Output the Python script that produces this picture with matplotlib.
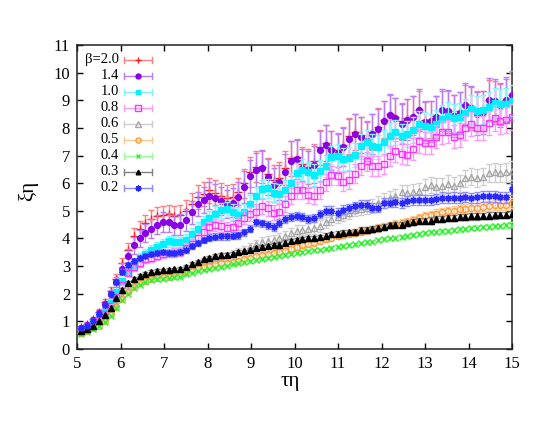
import matplotlib
matplotlib.use("Agg")
import matplotlib.pyplot as plt

plt.rcParams['font.family'] = 'serif'
plt.rcParams['font.serif'] = ['Liberation Serif', 'DejaVu Serif']

# tau*eta grid
x = [5.10, 5.23, 5.37, 5.50, 5.64, 5.77, 5.90, 6.04, 6.17, 6.30,
     6.44, 6.57, 6.71, 6.84, 6.97, 7.11, 7.24, 7.37, 7.51, 7.64,
     7.78, 7.91, 8.04, 8.18, 8.31, 8.44, 8.58, 8.71, 8.85, 8.98,
     9.11, 9.25, 9.38, 9.52, 9.65, 9.78, 9.92, 10.05, 10.18, 10.32,
     10.45, 10.59, 10.72, 10.85, 10.99, 11.12, 11.25, 11.39, 11.52, 11.66,
     11.79, 11.92, 12.06, 12.19, 12.32, 12.46, 12.59, 12.73, 12.86, 12.99,
     13.13, 13.26, 13.39, 13.53, 13.66, 13.80, 13.93, 14.06, 14.20, 14.33,
     14.47, 14.60, 14.73, 14.87, 15.00]

labels = ['β=2.0', '1.4', '1.0', '0.8', '0.6', '0.5', '0.4', '0.3', '0.2']

y_20 = [0.78, 0.9, 1.08, 1.35, 1.7, 2.1, 2.55, 3.1, 3.6, 4.1,
        4.35, 4.55, 4.7, 4.8, 4.85, 4.88, 4.82, 4.85, 5.0, 5.25,
        5.5, 5.6, 5.75, 5.65, 5.55, 5.45, 5.5, 5.7, 6.0, 6.4,
        6.6, 6.6, 6.35, 6.1, 6.2, 6.55, 6.9, 6.95, 6.7, 6.6,
        6.8, 7.3, 7.45, 7.25, 7.2, 7.4, 7.7, 7.85, 7.75, 7.6,
        7.85, 8.05, 8.3, 8.5, 8.4, 8.25, 8.35, 8.45, 8.65, 8.3,
        8.3, 8.45, 8.65, 8.6, 8.5, 8.6, 8.85, 8.75, 8.6, 8.6,
        9.0, 8.95, 8.85, 9.0, 9.2]
e_20 = [0.05, 0.06, 0.07, 0.09, 0.11, 0.14, 0.17, 0.2, 0.24, 0.27,
        0.3, 0.3, 0.32, 0.33, 0.34, 0.34, 0.35, 0.36, 0.38, 0.4,
        0.42, 0.43, 0.45, 0.45, 0.46, 0.47, 0.48, 0.5, 0.53, 0.55,
        0.56, 0.58, 0.58, 0.57, 0.58, 0.6, 0.63, 0.64, 0.62, 0.62,
        0.62, 0.64, 0.64, 0.64, 0.62, 0.64, 0.66, 0.66, 0.65, 0.65,
        0.66, 0.66, 0.68, 0.68, 0.67, 0.67, 0.68, 0.7, 0.7, 0.68,
        0.68, 0.7, 0.7, 0.72, 0.7, 0.7, 0.72, 0.74, 0.72, 0.72,
        0.74, 0.74, 0.75, 0.76, 0.8]

y_14 = [0.75, 0.87, 1.05, 1.3, 1.62, 2.0, 2.42, 2.9, 3.35, 3.75,
        4.0, 4.2, 4.35, 4.5, 4.6, 4.58, 4.48, 4.5, 4.68, 4.95,
        5.25, 5.4, 5.55, 5.48, 5.35, 5.25, 5.3, 5.5, 5.85, 6.25,
        6.49, 6.55, 6.22, 5.94, 6.03, 6.4, 6.81, 6.87, 6.55, 6.49,
        6.67, 7.19, 7.39, 7.19, 7.09, 7.31, 7.6, 7.79, 7.69, 7.51,
        7.79, 7.96, 8.24, 8.48, 8.36, 8.15, 8.3, 8.39, 8.64, 8.2,
        8.24, 8.39, 8.64, 8.6, 8.45, 8.54, 8.84, 8.72, 8.52, 8.56,
        9.02, 8.96, 8.84, 9.02, 9.2]
e_14 = [0.05, 0.06, 0.08, 0.1, 0.12, 0.15, 0.18, 0.22, 0.26, 0.3,
        0.32, 0.33, 0.34, 0.35, 0.36, 0.36, 0.36, 0.38, 0.4, 0.42,
        0.45, 0.46, 0.48, 0.48, 0.5, 0.5, 0.52, 0.55, 0.58, 0.6,
        0.62, 0.64, 0.64, 0.62, 0.64, 0.66, 0.7, 0.7, 0.68, 0.68,
        0.68, 0.7, 0.7, 0.7, 0.68, 0.7, 0.72, 0.72, 0.7, 0.7,
        0.72, 0.72, 0.74, 0.74, 0.72, 0.72, 0.74, 0.75, 0.76, 0.74,
        0.74, 0.75, 0.76, 0.78, 0.76, 0.76, 0.78, 0.8, 0.78, 0.78,
        0.8, 0.8, 0.8, 0.82, 0.85]

y_10 = [0.68, 0.8, 0.98, 1.2, 1.35, 1.65, 2.05, 2.45, 2.8, 3.05,
        3.3, 3.45, 3.58, 3.68, 3.8, 3.9, 3.88, 3.87, 3.95, 4.15,
        4.35, 4.58, 4.75, 4.9, 5.02, 5.05, 4.95, 4.85, 4.95, 5.25,
        5.52, 5.79, 5.82, 5.66, 5.62, 5.74, 6.0, 6.36, 6.49, 6.39,
        6.3, 6.43, 6.63, 6.94, 6.99, 6.87, 6.9, 7.03, 7.33, 7.48,
        7.33, 7.31, 7.48, 7.72, 7.84, 7.7, 7.79, 7.93, 8.15, 8.08,
        8.03, 8.15, 8.32, 8.44, 8.36, 8.4, 8.54, 8.68, 8.63, 8.66,
        8.76, 8.92, 8.88, 8.88, 8.99]
e_10 = [0.05, 0.05, 0.06, 0.07, 0.08, 0.1, 0.11, 0.13, 0.14, 0.15,
        0.16, 0.17, 0.18, 0.18, 0.19, 0.2, 0.2, 0.2, 0.21, 0.22,
        0.24, 0.25, 0.26, 0.27, 0.28, 0.28, 0.28, 0.3, 0.3, 0.32,
        0.33, 0.34, 0.34, 0.34, 0.35, 0.36, 0.37, 0.38, 0.38, 0.38,
        0.4, 0.4, 0.4, 0.42, 0.42, 0.42, 0.42, 0.43, 0.44, 0.44,
        0.44, 0.45, 0.45, 0.46, 0.46, 0.46, 0.47, 0.48, 0.48, 0.48,
        0.48, 0.49, 0.5, 0.5, 0.5, 0.5, 0.51, 0.52, 0.52, 0.52,
        0.53, 0.54, 0.54, 0.55, 0.56]

y_08 = [0.6, 0.7, 0.85, 1.05, 1.28, 1.55, 1.9, 2.3, 2.75, 2.95,
        3.1, 3.25, 3.3, 3.38, 3.43, 3.48, 3.48, 3.52, 3.65, 3.8,
        4.0, 4.25, 4.4, 4.48, 4.45, 4.38, 4.4, 4.55, 4.75, 4.9,
        4.97, 5.16, 5.1, 4.94, 4.97, 5.25, 5.54, 5.74, 5.74, 5.58,
        5.54, 5.76, 6.03, 6.28, 6.27, 6.06, 6.12, 6.34, 6.63, 6.79,
        6.63, 6.61, 6.7, 6.99, 7.15, 7.07, 7.03, 7.24, 7.51, 7.45,
        7.45, 7.69, 7.84, 7.87, 7.69, 7.75, 8.0, 8.15, 8.0, 8.0,
        8.18, 8.36, 8.24, 8.27, 8.39]
e_08 = [0.04, 0.05, 0.05, 0.06, 0.07, 0.08, 0.1, 0.11, 0.12, 0.13,
        0.13, 0.14, 0.14, 0.15, 0.15, 0.15, 0.16, 0.16, 0.17, 0.18,
        0.19, 0.2, 0.2, 0.21, 0.22, 0.22, 0.22, 0.23, 0.24, 0.25,
        0.26, 0.26, 0.27, 0.27, 0.28, 0.28, 0.29, 0.3, 0.3, 0.3,
        0.31, 0.32, 0.32, 0.33, 0.33, 0.33, 0.34, 0.34, 0.35, 0.35,
        0.36, 0.36, 0.37, 0.37, 0.38, 0.38, 0.38, 0.39, 0.4, 0.4,
        0.4, 0.41, 0.42, 0.42, 0.42, 0.43, 0.44, 0.44, 0.44, 0.45,
        0.45, 0.46, 0.46, 0.47, 0.48]

y_06 = [0.6, 0.68, 0.78, 0.9, 1.08, 1.32, 1.62, 1.92, 2.15, 2.35,
        2.48, 2.57, 2.63, 2.68, 2.72, 2.74, 2.76, 2.8, 2.9, 3.0,
        3.08, 3.15, 3.22, 3.3, 3.35, 3.4, 3.45, 3.52, 3.6, 3.7,
        3.8, 3.88, 3.92, 3.95, 4.02, 4.1, 4.2, 4.28, 4.3, 4.35,
        4.38, 4.45, 4.58, 4.7, 4.79, 4.85, 4.92, 5.04, 5.08, 5.12,
        5.18, 5.28, 5.38, 5.45, 5.52, 5.68, 5.64, 5.7, 5.72, 5.88,
        5.94, 5.88, 5.9, 5.98, 5.9, 6.0, 6.18, 6.24, 6.18, 6.24,
        6.36, 6.39, 6.36, 6.39, 6.46]
e_06 = [0.03, 0.03, 0.04, 0.04, 0.05, 0.05, 0.06, 0.06, 0.07, 0.07,
        0.07, 0.08, 0.08, 0.08, 0.08, 0.09, 0.09, 0.09, 0.1, 0.1,
        0.1, 0.11, 0.11, 0.12, 0.12, 0.12, 0.13, 0.13, 0.14, 0.14,
        0.15, 0.16, 0.16, 0.17, 0.17, 0.18, 0.18, 0.19, 0.19, 0.2,
        0.2, 0.21, 0.21, 0.22, 0.22, 0.23, 0.23, 0.24, 0.24, 0.25,
        0.25, 0.25, 0.26, 0.26, 0.27, 0.27, 0.28, 0.28, 0.28, 0.29,
        0.29, 0.3, 0.3, 0.3, 0.31, 0.31, 0.31, 0.32, 0.32, 0.32,
        0.33, 0.33, 0.33, 0.34, 0.34]

y_05 = [0.58, 0.66, 0.75, 0.85, 1.02, 1.25, 1.52, 1.82, 2.05, 2.25,
        2.38, 2.46, 2.52, 2.57, 2.6, 2.62, 2.64, 2.67, 2.78, 2.86,
        2.92, 2.97, 3.02, 3.06, 3.1, 3.13, 3.15, 3.2, 3.25, 3.3,
        3.35, 3.4, 3.44, 3.48, 3.52, 3.56, 3.62, 3.7, 3.75, 3.8,
        3.85, 3.9, 3.97, 4.02, 4.08, 4.12, 4.16, 4.2, 4.25, 4.3,
        4.33, 4.38, 4.43, 4.48, 4.52, 4.55, 4.6, 4.68, 4.75, 4.8,
        4.85, 4.9, 4.95, 4.98, 5.0, 5.05, 5.08, 5.1, 5.12, 5.15,
        5.18, 5.2, 5.22, 5.22, 5.28]
e_05 = [0.02, 0.02, 0.03, 0.03, 0.03, 0.04, 0.04, 0.04, 0.05, 0.05,
        0.05, 0.05, 0.05, 0.05, 0.05, 0.05, 0.06, 0.06, 0.06, 0.06,
        0.06, 0.06, 0.06, 0.07, 0.07, 0.07, 0.07, 0.07, 0.08, 0.08,
        0.08, 0.08, 0.08, 0.09, 0.09, 0.09, 0.09, 0.1, 0.1, 0.1,
        0.1, 0.1, 0.11, 0.11, 0.11, 0.11, 0.12, 0.12, 0.12, 0.12,
        0.13, 0.13, 0.13, 0.13, 0.14, 0.14, 0.14, 0.14, 0.15, 0.15,
        0.15, 0.15, 0.16, 0.16, 0.16, 0.16, 0.17, 0.17, 0.17, 0.17,
        0.18, 0.18, 0.18, 0.18, 0.19]

y_04 = [0.55, 0.63, 0.72, 0.82, 0.98, 1.2, 1.5, 1.78, 2.0, 2.2,
        2.33, 2.42, 2.48, 2.52, 2.55, 2.57, 2.59, 2.62, 2.7, 2.76,
        2.82, 2.87, 2.9, 2.94, 2.98, 3.02, 3.06, 3.1, 3.14, 3.18,
        3.22, 3.26, 3.3, 3.34, 3.37, 3.4, 3.44, 3.48, 3.51, 3.54,
        3.57, 3.6, 3.63, 3.66, 3.7, 3.73, 3.76, 3.79, 3.82, 3.86,
        3.89, 3.93, 3.97, 4.0, 4.03, 4.06, 4.1, 4.13, 4.16, 4.19,
        4.22, 4.24, 4.26, 4.28, 4.3, 4.33, 4.35, 4.37, 4.39, 4.41,
        4.43, 4.45, 4.46, 4.47, 4.49]
e_04 = [0.02, 0.02, 0.02, 0.02, 0.03, 0.03, 0.03, 0.03, 0.03, 0.03,
        0.03, 0.03, 0.03, 0.03, 0.03, 0.03, 0.03, 0.04, 0.04, 0.04,
        0.04, 0.04, 0.04, 0.04, 0.04, 0.04, 0.04, 0.05, 0.05, 0.05,
        0.05, 0.05, 0.05, 0.05, 0.05, 0.05, 0.05, 0.05, 0.06, 0.06,
        0.06, 0.06, 0.06, 0.06, 0.06, 0.06, 0.06, 0.06, 0.06, 0.07,
        0.07, 0.07, 0.07, 0.07, 0.07, 0.07, 0.07, 0.07, 0.07, 0.07,
        0.08, 0.08, 0.08, 0.08, 0.08, 0.08, 0.08, 0.08, 0.08, 0.08,
        0.08, 0.08, 0.08, 0.09, 0.09]

y_03 = [0.65, 0.72, 0.83, 1.0, 1.22, 1.5, 1.85, 2.15, 2.4, 2.55,
        2.65, 2.73, 2.8, 2.84, 2.86, 2.87, 2.88, 2.9, 2.98, 3.08,
        3.16, 3.25, 3.3, 3.38, 3.4, 3.42, 3.45, 3.5, 3.53, 3.58,
        3.65, 3.7, 3.73, 3.75, 3.78, 3.85, 3.9, 3.95, 3.98, 4.0,
        4.0, 4.05, 4.1, 4.15, 4.17, 4.2, 4.22, 4.25, 4.3, 4.32,
        4.35, 4.38, 4.43, 4.47, 4.5, 4.5, 4.55, 4.6, 4.62, 4.64,
        4.65, 4.7, 4.72, 4.73, 4.75, 4.77, 4.78, 4.8, 4.8, 4.82,
        4.83, 4.84, 4.85, 4.85, 4.87]
e_03 = [0.02, 0.02, 0.03, 0.03, 0.04, 0.04, 0.05, 0.05, 0.05, 0.05,
        0.05, 0.05, 0.05, 0.05, 0.05, 0.05, 0.05, 0.06, 0.06, 0.06,
        0.06, 0.06, 0.06, 0.06, 0.06, 0.07, 0.07, 0.07, 0.07, 0.07,
        0.07, 0.07, 0.08, 0.08, 0.08, 0.08, 0.08, 0.08, 0.08, 0.08,
        0.09, 0.09, 0.09, 0.09, 0.09, 0.09, 0.09, 0.09, 0.1, 0.1,
        0.1, 0.1, 0.1, 0.1, 0.1, 0.1, 0.1, 0.1, 0.11, 0.11,
        0.11, 0.11, 0.11, 0.11, 0.11, 0.11, 0.11, 0.12, 0.12, 0.12,
        0.12, 0.12, 0.12, 0.12, 0.12]

y_02 = [0.75, 0.85, 1.02, 1.28, 1.6, 2.0, 2.42, 2.8, 3.05, 3.2,
        3.3, 3.38, 3.43, 3.47, 3.5, 3.48, 3.47, 3.5, 3.6, 3.72,
        3.85, 3.95, 4.03, 4.07, 4.08, 4.08, 4.1, 4.12, 4.22, 4.35,
        4.58, 4.55, 4.49, 4.41, 4.55, 4.7, 4.79, 4.82, 4.79, 4.7,
        4.74, 4.89, 5.01, 5.01, 4.94, 5.04, 5.1, 5.16, 5.22, 5.22,
        5.12, 5.12, 5.28, 5.3, 5.31, 5.28, 5.34, 5.4, 5.4, 5.38,
        5.4, 5.42, 5.48, 5.46, 5.48, 5.46, 5.5, 5.46, 5.5, 5.52,
        5.52, 5.52, 5.5, 5.5, 5.79]
e_02 = [0.04, 0.04, 0.05, 0.06, 0.07, 0.08, 0.09, 0.1, 0.1, 0.1,
        0.1, 0.1, 0.1, 0.1, 0.1, 0.1, 0.1, 0.11, 0.11, 0.11,
        0.11, 0.12, 0.12, 0.12, 0.12, 0.12, 0.12, 0.13, 0.13, 0.13,
        0.13, 0.13, 0.14, 0.14, 0.14, 0.14, 0.14, 0.15, 0.15, 0.15,
        0.15, 0.15, 0.16, 0.16, 0.16, 0.16, 0.16, 0.16, 0.17, 0.17,
        0.17, 0.17, 0.17, 0.17, 0.18, 0.18, 0.18, 0.18, 0.18, 0.18,
        0.18, 0.19, 0.19, 0.19, 0.19, 0.19, 0.19, 0.19, 0.2, 0.2,
        0.2, 0.2, 0.2, 0.2, 0.2]

# (values, errors, marker colour, bar colour, marker, filled, size)
series = [
    (y_20, e_20, '#ff1a1a', '#ff8080', '+', True, 5.5),
    (y_14, e_14, '#8a00e6', '#b77cff', 'o', True, 4.2),
    (y_10, e_10, '#00f0ff', '#7ff6ff', 's', True, 4.2),
    (y_08, e_08, '#ff33ff', '#ff99ff', 's', False, 4.6),
    (y_06, e_06, '#a6a6a6', '#cfcfcf', '^', False, 4.3),
    (y_05, e_05, '#ff9933', '#ffc890', 'o', False, 4.3),
    (y_04, e_04, '#33ee33', '#99ff99', 'x', True, 4.0),
    (y_03, e_03, '#000000', '#808080', '^', True, 3.9),
    (y_02, e_02, '#2a2aff', '#8c8cff', (8, 2, 0), True, 5.0),
]

fig = plt.figure(figsize=(5.45, 4.21), dpi=100)
ax = fig.add_axes([0.1413, 0.171, 0.7982, 0.722])

for k, (yv, ev, mc, ec, mk, filled, ms) in enumerate(series):
    face = mc if filled else 'none'
    ax.errorbar(x, yv, yerr=ev, fmt='none', ecolor=ec, elinewidth=1.0,
                capsize=2.2, capthick=1.0, zorder=2 + 2 * k)
    ax.plot(x, yv, linestyle='none', marker=mk, markersize=ms,
            markerfacecolor=face, markeredgecolor=mc, markeredgewidth=1.0,
            zorder=3 + 2 * k)

    # gnuplot-style key entry
    ry = 0.951 - 0.0526 * k
    ax.text(0.0966, ry, labels[k], transform=ax.transAxes, ha='right',
            va='center', fontsize=10.5)
    ax.plot([0.108, 0.172], [ry, ry], color=ec, lw=1.0,
            transform=ax.transAxes, zorder=30)
    for cx in (0.108, 0.172):
        ax.plot([cx, cx], [ry - 0.009, ry + 0.009], color=ec, lw=1.0,
                transform=ax.transAxes, zorder=30)
    ax.plot([0.140], [ry], linestyle='none', marker=mk, markersize=ms * 0.85,
            markerfacecolor=face, markeredgecolor=mc, markeredgewidth=1.0,
            transform=ax.transAxes, zorder=31)

ax.set_xlim(5, 15)
ax.set_ylim(0, 11)
ax.set_xticks(range(5, 16))
ax.set_yticks(range(0, 12))
ax.tick_params(direction='in', top=True, right=True, length=4.5, width=1,
               labelsize=12, pad=5)
for s in ax.spines.values():
    s.set_linewidth(1.1)
    s.set_color('#222222')

ax.set_xlabel('τη', fontsize=15)
ax.set_ylabel('ξη', fontsize=15)
ax.xaxis.set_label_coords(0.49, -0.075)
ax.yaxis.set_label_coords(-0.09, 0.52)

fig.savefig('out.png', dpi=100)
